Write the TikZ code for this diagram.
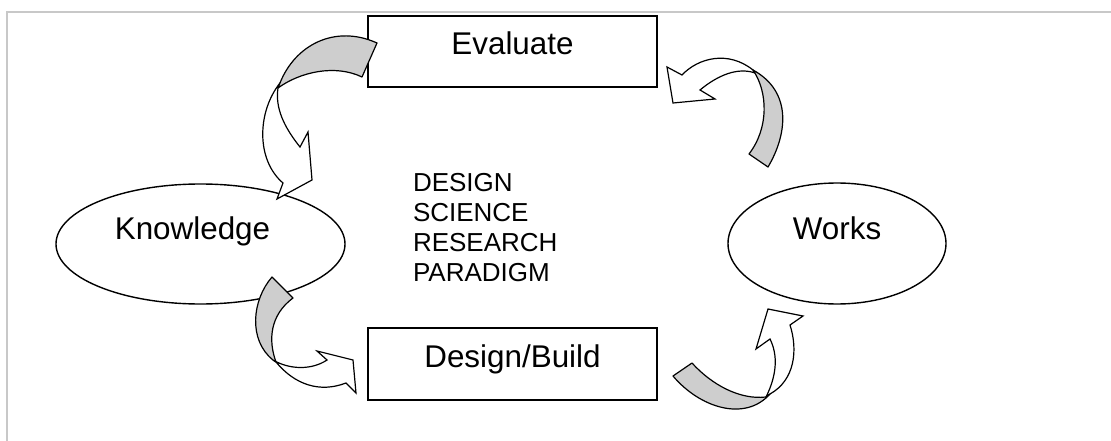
\documentclass[tikz,border=0pt]{standalone}
\usepackage{fontspec}
\setmainfont{Liberation Sans}
\usetikzlibrary{shapes.geometric}
\definecolor{framegray}{RGB}{200,200,200}
\definecolor{bandgray}{RGB}{206,206,206}
\tikzset{
  boxnode/.style={draw=black, line width=1.8pt, rectangle, minimum width=289pt, inner xsep=0pt, inner ysep=0pt, outer sep=0pt, font=\fontsize{31.4}{36}\selectfont},
  ellnode/.style={draw=black, line width=1.4pt, ellipse, inner sep=0pt, outer sep=0pt, text height=20pt, text depth=29.3pt, font=\fontsize{31.4}{36}\selectfont},
  backband/.style={draw=black, fill=bandgray, line width=1.2pt, line join=round},
  frontband/.style={draw=black, fill=white, line width=1.2pt, line join=miter},
  paratext/.style={align=left, inner sep=0pt, outer sep=0pt, font=\fontsize{26}{29.8}\selectfont}
}
\begin{document}
\begin{tikzpicture}[x=1pt, y=-1pt]
\useasboundingbox (0,0) rectangle (1111,441);
% frame
\draw[framegray, line width=2pt] (7,441) -- (7,12) -- (1111,12);

% nodes
\node[boxnode, text height=39pt, text depth=32pt, anchor=base] (ev) at (512.5,55) {Evaluate};
\node[boxnode, text height=39.3pt, text depth=32.7pt, anchor=base] (db) at (512.5,367.3) {Design/Build};
\node[ellnode, minimum width=289pt, minimum height=120pt] (kn) at (200.5,244) {Knowledge\kern16pt};
\node[ellnode, minimum width=218pt, minimum height=121pt, text depth=29pt] (wk) at (837,243.5) {Works};
\node[paratext, anchor=north west] (dsr) at (413,173.5) {DESIGN\\SCIENCE\\RESEARCH\\PARADIGM};

% curved arrow: Evaluate -> Knowledge
\draw[frontband] (280,83) .. controls (257,112) and (256,160) .. (283,183) -- (277,199) -- (312,180) -- (308,132) -- (300,147) .. controls (284,127) and (275,108) .. (278,88) -- cycle;
\draw[backband] (377,43) .. controls (335,24) and (295,45) .. (280,83) -- (278,88) .. controls (300,72) and (335,64) .. (362,77) -- cycle;

% curved arrow: Works -> Evaluate
\draw[frontband] (753,70) .. controls (728,50) and (698,58) .. (682,75) -- (667,67) -- (673,103) -- (715,99) -- (700,90) .. controls (718,75) and (738,67) .. (755,73) -- cycle;
\draw[backband] (749,154) -- (768,167) .. controls (787,135) and (793,92) .. (753,70) .. controls (768,92) and (769,128) .. (749,154) -- cycle;

% curved arrow: Knowledge -> Design/Build
\draw[frontband] (273,360) .. controls (290,370) and (312,370) .. (327,360) -- (317,351) -- (353,360) -- (356,393) -- (346,383) .. controls (320,393) and (295,385) .. (276,362) -- cycle;
\draw[backband] (272,277) .. controls (252,300) and (248,340) .. (273,360) -- (276,362) .. controls (268,340) and (270,315) .. (293,298) -- cycle;

% curved arrow: Design/Build -> Works
\draw[frontband] (766,397) .. controls (777,375) and (778,355) .. (770,339) -- (756,349) -- (768,309) -- (803,316) -- (790,325) .. controls (798,350) and (795,380) .. (770,394) -- cycle;
\draw[backband] (673,376) .. controls (700,408) and (745,422) .. (770,394) -- (766,397) .. controls (740,400) and (712,385) .. (692,363) -- cycle;
\end{tikzpicture}
\end{document}
